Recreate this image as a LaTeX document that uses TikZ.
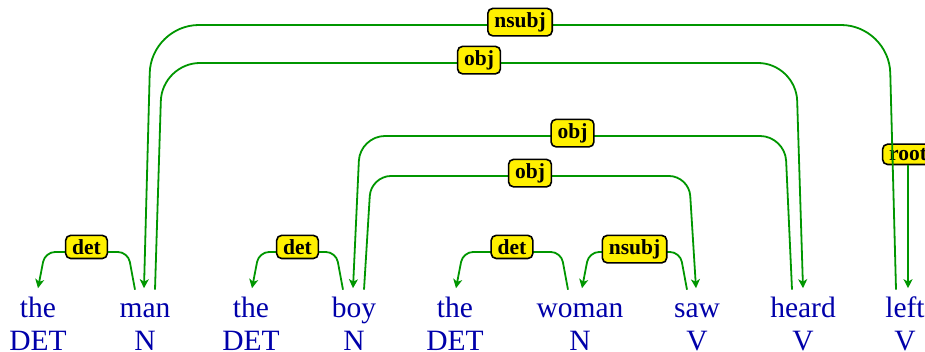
\documentclass[tikz,border=0pt]{standalone}
\usepackage{fontspec}
\setmainfont{Liberation Serif}
\usetikzlibrary{arrows.meta,positioning,calc}
\definecolor{depWordBlue}{RGB}{0,0,170}
\definecolor{depEdgeGreen}{RGB}{0,150,0}
\definecolor{depLabelYellow}{RGB}{255,240,0}
\colorlet{wordblue}{depWordBlue}
\colorlet{edgegreen}{depEdgeGreen}
\colorlet{labelyellow}{depLabelYellow}

\begin{document}
\begin{tikzpicture}[x=1pt,y=1pt,node distance=4.5pt,
  word/.style={text=wordblue,font=\fontsize{29.5}{32}\selectfont,inner sep=0pt,text height=20.6pt,text depth=7.4pt},
  dep/.style={draw=edgegreen,line width=1.8pt,-{Stealth[length=9pt,width=9pt,inset=2.5pt]}},
  deplabel/.style={draw=black,line width=1.6pt,fill=labelyellow,rounded corners=5pt,inner xsep=6.5pt,inner ysep=4pt,anchor=mid,text=black,font=\fontsize{21.5}{22}\selectfont\bfseries}]
\useasboundingbox (0,0) rectangle (925,352);
\clip (0,0) rectangle (925,352);
% words and tags
\node[word,anchor=base] (w1) at (38,34) {the};
\node[word,anchor=base] (w2) at (145,34) {man};
\node[word,anchor=base] (w3) at (251,34) {the};
\node[word,anchor=base] (w4) at (354,34) {boy};
\node[word,anchor=base] (w5) at (455,34) {the};
\node[word,anchor=base] (w6) at (580,34) {woman};
\node[word,anchor=base] (w7) at (697,34) {saw};
\node[word,anchor=base] (w8) at (803,34) {heard};
\node[word,anchor=base] (w9) at (905,34) {left};
\node[word,below=of w1] (t1) {DET};
\node[word,below=of w2] (t2) {N};
\node[word,below=of w3] (t3) {DET};
\node[word,below=of w4] (t4) {N};
\node[word,below=of w5] (t5) {DET};
\node[word,below=of w6] (t6) {N};
\node[word,below=of w7] (t7) {V};
\node[word,below=of w8] (t8) {V};
\node[word,below=of w9] (t9) {V};
% short arcs
\draw[dep,rounded corners=10pt] let \p1=([xshift=-10pt,yshift=7.5pt]w2.north), \p2=([yshift=9pt]w1.north) in
  (\p1) -- (\x1-7pt,100pt) -- node[deplabel] (ldet1) {det} (\x2+7pt,100pt) -- (\p2);
\draw[dep,rounded corners=10pt] let \p1=([xshift=-11pt,yshift=7.5pt]w4.north), \p2=([xshift=1pt,yshift=9pt]w3.north) in
  (\p1) -- (\x1-7pt,100pt) -- node[deplabel] (ldet2) {det} (\x2+7pt,100pt) -- (\p2);
\draw[dep,rounded corners=10pt] let \p1=([xshift=-12pt,yshift=7.5pt]w6.north), \p2=([xshift=1pt,yshift=9pt]w5.north) in
  (\p1) -- (\x1-7pt,100pt) -- node[deplabel] (ldet3) {det} (\x2+7pt,100pt) -- (\p2);
\draw[dep,rounded corners=10pt] let \p1=([xshift=-10pt,yshift=7.5pt]w7.north), \p2=([xshift=2pt,yshift=9pt]w6.north) in
  (\p1) -- (\x1-7pt,100pt) -- node[deplabel] (lnsubj1) {nsubj} (\x2+7pt,100pt) -- (\p2);
% long arcs
\draw[dep,rounded corners=20pt] let \p1=([xshift=10pt,yshift=7.5pt]w4.north), \p2=([xshift=-1pt,yshift=9pt]w7.north) in
  (\p1) -- (\x1+7pt,176pt) -- node[deplabel] (lobj1) {obj} (\x2-7pt,176pt) -- (\p2);
\draw[dep,rounded corners=25pt] let \p1=([xshift=-11pt,yshift=7.5pt]w8.north), \p2=([xshift=-1pt,yshift=9pt]w4.north) in
  (\p1) -- (\x1-7pt,216pt) -- node[deplabel] (lobj2) {obj} (\x2+7pt,216pt) -- (\p2);
\draw[dep,rounded corners=38pt] let \p1=([xshift=10pt,yshift=7.5pt]w2.north), \p2=([yshift=9pt]w8.north) in
  (\p1) -- (\x1+7pt,289pt) -- node[deplabel] (lobj3) {obj} (\x2-7pt,289pt) -- (\p2);
% root
\node[deplabel] (lroot) at (908,194) {root};
\draw[dep] (lroot.south) -- ([xshift=3pt,yshift=9pt]w9.north);
\draw[dep,rounded corners=48pt] let \p1=([xshift=-9pt,yshift=7.5pt]w9.north), \p2=([xshift=-1pt,yshift=9pt]w2.north) in
  (\p1) -- (\x1-7pt,327pt) -- node[deplabel] (lnsubj2) {nsubj} (\x2+7pt,327pt) -- (\p2);
\end{tikzpicture}
\end{document}
